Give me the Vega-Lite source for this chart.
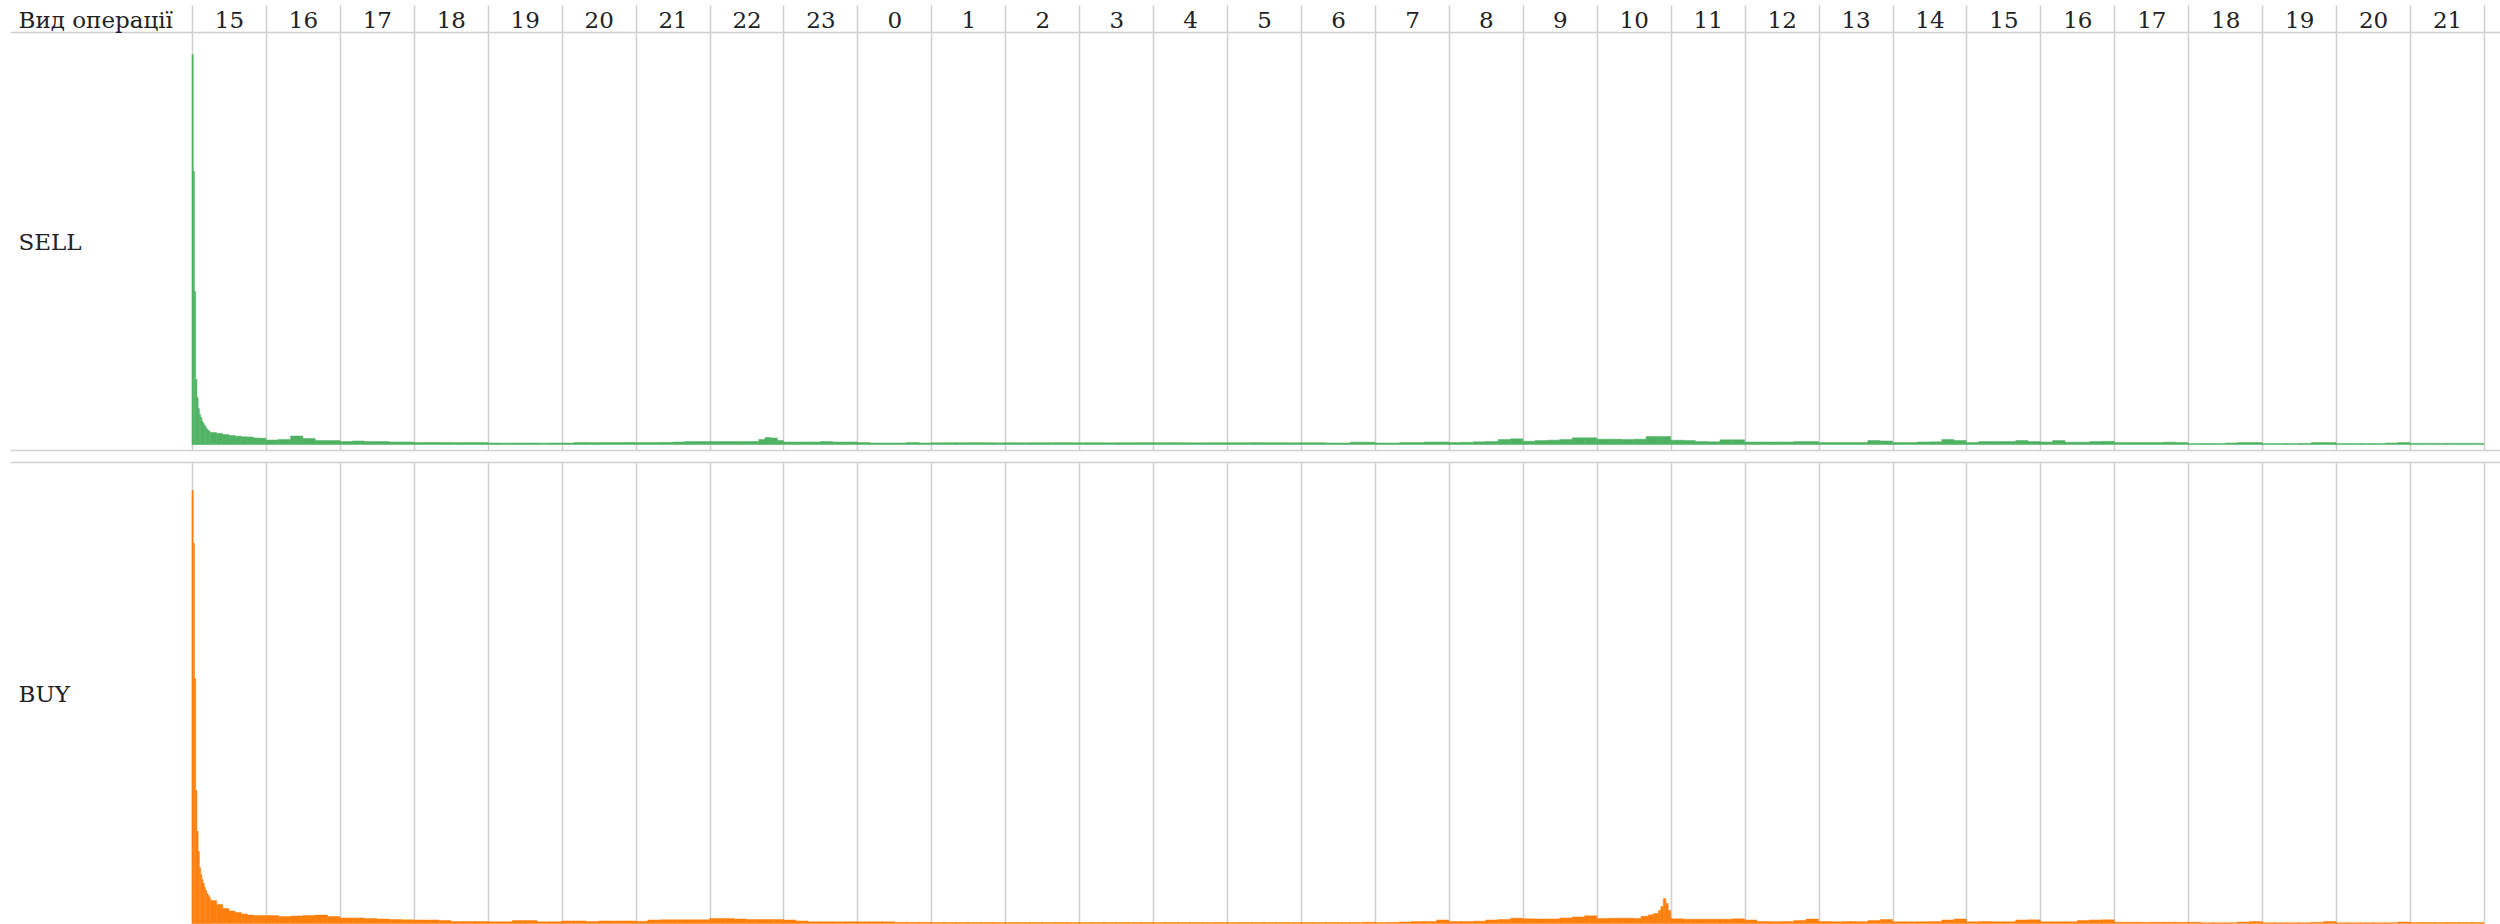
{
  "$schema": "https://vega.github.io/schema/vega-lite/v6.json",
  "autosize": {"type": "pad"},
  "padding": {"left": 10, "top": 4, "right": 0, "bottom": 0},
  "background": "white",
  "bounds": "flush",
  "spacing": 12,
  "config": {"view": {"stroke": null}, "font": "DejaVu Serif"},
  "datasets": {
    "sell": [
      {"t0":0,"t1":1,"v":390},{"t0":1,"t1":2,"v":273},{"t0":2,"t1":3,"v":153},{"t0":3,"t1":4,"v":65},{"t0":4,"t1":5,"v":47},{"t0":5,"t1":6,"v":36},{"t0":6,"t1":7,"v":30},{"t0":7,"t1":8,"v":27},{"t0":8,"t1":9,"v":23},{"t0":9,"t1":10,"v":21},{"t0":10,"t1":11,"v":19},{"t0":11,"t1":12,"v":17},{"t0":12,"t1":13,"v":15},{"t0":13,"t1":14,"v":14},{"t0":14,"t1":15,"v":13},
      {"t0":15,"t1":20,"v":12},{"t0":20,"t1":25,"v":11},{"t0":25,"t1":30,"v":10},{"t0":30,"t1":35,"v":9},{"t0":35,"t1":40,"v":8.3},{"t0":40,"t1":45,"v":7.7},{"t0":45,"t1":50,"v":7.5},{"t0":50,"t1":55,"v":6.5},{"t0":55,"t1":60,"v":6.3},
      {"t0":60,"t1":70,"v":4.5},{"t0":70,"t1":80,"v":5},{"t0":80,"t1":90,"v":8.5},{"t0":90,"t1":100,"v":6},{"t0":100,"t1":110,"v":4},{"t0":110,"t1":120,"v":4},
      {"t0":120,"t1":130,"v":3},{"t0":130,"t1":140,"v":3.5},{"t0":140,"t1":150,"v":3},{"t0":150,"t1":160,"v":3},{"t0":160,"t1":170,"v":2.5},{"t0":170,"t1":180,"v":2.5},
      {"t0":180,"t1":190,"v":2},{"t0":190,"t1":200,"v":2.1},{"t0":200,"t1":210,"v":2},{"t0":210,"t1":220,"v":1.9},{"t0":220,"t1":230,"v":2},{"t0":230,"t1":240,"v":2},
      {"t0":240,"t1":250,"v":1.5},{"t0":250,"t1":260,"v":1.4},{"t0":260,"t1":270,"v":1.6},{"t0":270,"t1":280,"v":1.5},{"t0":280,"t1":290,"v":1.4},{"t0":290,"t1":300,"v":1.5},
      {"t0":300,"t1":310,"v":1.5},{"t0":310,"t1":320,"v":2},{"t0":320,"t1":330,"v":1.9},{"t0":330,"t1":340,"v":2},{"t0":340,"t1":350,"v":2},{"t0":350,"t1":360,"v":2.1},
      {"t0":360,"t1":370,"v":2},{"t0":370,"t1":380,"v":2},{"t0":380,"t1":390,"v":2.1},{"t0":390,"t1":400,"v":2.5},{"t0":400,"t1":410,"v":3},{"t0":410,"t1":420,"v":3},
      {"t0":420,"t1":430,"v":3},{"t0":430,"t1":440,"v":3},{"t0":440,"t1":450,"v":3},{"t0":450,"t1":460,"v":3.1},{"t0":460,"t1":465,"v":5},{"t0":465,"t1":470,"v":7},{"t0":470,"t1":475,"v":6.5},{"t0":475,"t1":480,"v":4},
      {"t0":480,"t1":490,"v":2.5},{"t0":490,"t1":500,"v":2.5},{"t0":500,"t1":510,"v":2.5},{"t0":510,"t1":520,"v":3},{"t0":520,"t1":530,"v":2.5},{"t0":530,"t1":540,"v":2.5},
      {"t0":540,"t1":550,"v":2},{"t0":550,"t1":560,"v":1.5},{"t0":560,"t1":570,"v":1.5},{"t0":570,"t1":580,"v":1.5},{"t0":580,"t1":590,"v":2},{"t0":590,"t1":600,"v":1.5},
      {"t0":600,"t1":610,"v":1.7},{"t0":610,"t1":620,"v":1.8},{"t0":620,"t1":630,"v":1.8},{"t0":630,"t1":640,"v":1.9},{"t0":640,"t1":650,"v":1.8},{"t0":650,"t1":660,"v":1.7},
      {"t0":660,"t1":670,"v":1.8},{"t0":670,"t1":680,"v":1.7},{"t0":680,"t1":690,"v":1.8},{"t0":690,"t1":700,"v":1.8},{"t0":700,"t1":710,"v":1.9},{"t0":710,"t1":720,"v":1.8},
      {"t0":720,"t1":730,"v":1.8},{"t0":730,"t1":740,"v":1.8},{"t0":740,"t1":750,"v":1.7},{"t0":750,"t1":760,"v":1.8},{"t0":760,"t1":770,"v":1.8},{"t0":770,"t1":780,"v":1.9},
      {"t0":780,"t1":790,"v":1.8},{"t0":790,"t1":800,"v":1.9},{"t0":800,"t1":810,"v":1.8},{"t0":810,"t1":820,"v":1.7},{"t0":820,"t1":830,"v":1.8},{"t0":830,"t1":840,"v":1.8},
      {"t0":840,"t1":850,"v":1.8},{"t0":850,"t1":860,"v":1.8},{"t0":860,"t1":870,"v":1.9},{"t0":870,"t1":880,"v":1.8},{"t0":880,"t1":890,"v":1.8},{"t0":890,"t1":900,"v":1.7},
      {"t0":900,"t1":910,"v":1.8},{"t0":910,"t1":920,"v":1.8},{"t0":920,"t1":930,"v":1.5},{"t0":930,"t1":940,"v":1.5},{"t0":940,"t1":950,"v":2.3},{"t0":950,"t1":960,"v":2.3},
      {"t0":960,"t1":970,"v":1.5},{"t0":970,"t1":980,"v":1.5},{"t0":980,"t1":990,"v":2},{"t0":990,"t1":1000,"v":2},{"t0":1000,"t1":1010,"v":2.5},{"t0":1010,"t1":1020,"v":2.5},
      {"t0":1020,"t1":1030,"v":2},{"t0":1030,"t1":1040,"v":2.2},{"t0":1040,"t1":1050,"v":2.7},{"t0":1050,"t1":1060,"v":3},{"t0":1060,"t1":1070,"v":5},{"t0":1070,"t1":1080,"v":5.7},
      {"t0":1080,"t1":1090,"v":3.3},{"t0":1090,"t1":1100,"v":4},{"t0":1100,"t1":1110,"v":4.3},{"t0":1110,"t1":1120,"v":5},{"t0":1120,"t1":1130,"v":6.7},{"t0":1130,"t1":1140,"v":6.7},
      {"t0":1140,"t1":1150,"v":5.3},{"t0":1150,"t1":1160,"v":5.3},{"t0":1160,"t1":1170,"v":5},{"t0":1170,"t1":1180,"v":5.3},{"t0":1180,"t1":1190,"v":8},{"t0":1190,"t1":1200,"v":8},
      {"t0":1200,"t1":1210,"v":4.3},{"t0":1210,"t1":1220,"v":4},{"t0":1220,"t1":1230,"v":3},{"t0":1230,"t1":1240,"v":2.7},{"t0":1240,"t1":1250,"v":4.7},{"t0":1250,"t1":1260,"v":4.7},
      {"t0":1260,"t1":1270,"v":2.5},{"t0":1270,"t1":1280,"v":2.5},{"t0":1280,"t1":1290,"v":2.5},{"t0":1290,"t1":1300,"v":2.5},{"t0":1300,"t1":1310,"v":3},{"t0":1310,"t1":1320,"v":3},
      {"t0":1320,"t1":1330,"v":2},{"t0":1330,"t1":1340,"v":2},{"t0":1340,"t1":1350,"v":2},{"t0":1350,"t1":1360,"v":2},{"t0":1360,"t1":1370,"v":4},{"t0":1370,"t1":1380,"v":3.5},
      {"t0":1380,"t1":1390,"v":2},{"t0":1390,"t1":1400,"v":2},{"t0":1400,"t1":1410,"v":2.5},{"t0":1410,"t1":1420,"v":2.7},{"t0":1420,"t1":1430,"v":5},{"t0":1430,"t1":1440,"v":4},
      {"t0":1440,"t1":1450,"v":2},{"t0":1450,"t1":1460,"v":3},{"t0":1460,"t1":1470,"v":3},{"t0":1470,"t1":1480,"v":3},{"t0":1480,"t1":1490,"v":4},{"t0":1490,"t1":1500,"v":3},
      {"t0":1500,"t1":1510,"v":2.5},{"t0":1510,"t1":1520,"v":4},{"t0":1520,"t1":1530,"v":2.3},{"t0":1530,"t1":1540,"v":2.3},{"t0":1540,"t1":1550,"v":3},{"t0":1550,"t1":1560,"v":3.2},
      {"t0":1560,"t1":1570,"v":2},{"t0":1570,"t1":1580,"v":2},{"t0":1580,"t1":1590,"v":2},{"t0":1590,"t1":1600,"v":2},{"t0":1600,"t1":1610,"v":2.3},{"t0":1610,"t1":1620,"v":2},
      {"t0":1620,"t1":1630,"v":1},{"t0":1630,"t1":1640,"v":1},{"t0":1640,"t1":1650,"v":1},{"t0":1650,"t1":1660,"v":1.5},{"t0":1660,"t1":1670,"v":2},{"t0":1670,"t1":1680,"v":2},
      {"t0":1680,"t1":1690,"v":1},{"t0":1690,"t1":1700,"v":1},{"t0":1700,"t1":1710,"v":1},{"t0":1710,"t1":1720,"v":1.2},{"t0":1720,"t1":1730,"v":2},{"t0":1730,"t1":1740,"v":2},
      {"t0":1740,"t1":1750,"v":1},{"t0":1750,"t1":1760,"v":1},{"t0":1760,"t1":1770,"v":1},{"t0":1770,"t1":1780,"v":1},{"t0":1780,"t1":1790,"v":1.5},{"t0":1790,"t1":1800,"v":2},
      {"t0":1800,"t1":1810,"v":1.2},{"t0":1810,"t1":1820,"v":1.2},{"t0":1820,"t1":1830,"v":1.2},{"t0":1830,"t1":1840,"v":1.2},{"t0":1840,"t1":1850,"v":1.2},{"t0":1850,"t1":1860,"v":1.2}
    ],
    "buy": [
      {"t0":0,"t1":1,"v":433},{"t0":1,"t1":2,"v":380},{"t0":2,"t1":3,"v":245},{"t0":3,"t1":4,"v":133},{"t0":4,"t1":5,"v":92},{"t0":5,"t1":6,"v":72},{"t0":6,"t1":7,"v":56},{"t0":7,"t1":8,"v":49},{"t0":8,"t1":9,"v":44},{"t0":9,"t1":10,"v":40},{"t0":10,"t1":11,"v":36},{"t0":11,"t1":12,"v":33},{"t0":12,"t1":13,"v":30},{"t0":13,"t1":14,"v":28},{"t0":14,"t1":15,"v":26},
      {"t0":15,"t1":20,"v":23},{"t0":20,"t1":25,"v":19},{"t0":25,"t1":30,"v":15},{"t0":30,"t1":35,"v":12.5},{"t0":35,"t1":40,"v":11},{"t0":40,"t1":45,"v":9.5},{"t0":45,"t1":50,"v":8.5},{"t0":50,"t1":55,"v":8},{"t0":55,"t1":60,"v":8},
      {"t0":60,"t1":70,"v":8},{"t0":70,"t1":80,"v":7},{"t0":80,"t1":90,"v":7.5},{"t0":90,"t1":100,"v":8},{"t0":100,"t1":110,"v":8.5},{"t0":110,"t1":120,"v":7},
      {"t0":120,"t1":130,"v":5.5},{"t0":130,"t1":140,"v":5.5},{"t0":140,"t1":150,"v":5},{"t0":150,"t1":160,"v":4.5},{"t0":160,"t1":170,"v":4},{"t0":170,"t1":180,"v":3.7},
      {"t0":180,"t1":190,"v":3.5},{"t0":190,"t1":200,"v":3.5},{"t0":200,"t1":210,"v":3},{"t0":210,"t1":220,"v":2},{"t0":220,"t1":230,"v":2},{"t0":230,"t1":240,"v":2},
      {"t0":240,"t1":250,"v":1.7},{"t0":250,"t1":260,"v":1.7},{"t0":260,"t1":270,"v":3},{"t0":270,"t1":280,"v":3},{"t0":280,"t1":290,"v":1.7},{"t0":290,"t1":300,"v":1.7},
      {"t0":300,"t1":310,"v":2.5},{"t0":310,"t1":320,"v":2.5},{"t0":320,"t1":330,"v":2},{"t0":330,"t1":340,"v":2.5},{"t0":340,"t1":350,"v":2.5},{"t0":350,"t1":360,"v":2.5},
      {"t0":360,"t1":370,"v":2.2},{"t0":370,"t1":380,"v":3.5},{"t0":380,"t1":390,"v":3.7},{"t0":390,"t1":400,"v":3.7},{"t0":400,"t1":410,"v":3.7},{"t0":410,"t1":420,"v":3.7},
      {"t0":420,"t1":430,"v":5},{"t0":430,"t1":440,"v":5},{"t0":440,"t1":450,"v":4.5},{"t0":450,"t1":460,"v":4},{"t0":460,"t1":470,"v":4},{"t0":470,"t1":480,"v":4},
      {"t0":480,"t1":490,"v":3.5},{"t0":490,"t1":500,"v":2.5},{"t0":500,"t1":510,"v":1.7},{"t0":510,"t1":520,"v":1.7},{"t0":520,"t1":530,"v":1.7},{"t0":530,"t1":540,"v":1.7},
      {"t0":540,"t1":550,"v":1.7},{"t0":550,"t1":560,"v":1.7},{"t0":560,"t1":570,"v":1.7},{"t0":570,"t1":580,"v":1.2},{"t0":580,"t1":590,"v":1.2},{"t0":590,"t1":600,"v":1.2},
      {"t0":600,"t1":610,"v":1},{"t0":610,"t1":620,"v":1},{"t0":620,"t1":630,"v":1},{"t0":630,"t1":640,"v":1},{"t0":640,"t1":650,"v":1},{"t0":650,"t1":660,"v":1},
      {"t0":660,"t1":670,"v":1},{"t0":670,"t1":680,"v":1},{"t0":680,"t1":690,"v":1},{"t0":690,"t1":700,"v":1},{"t0":700,"t1":710,"v":1},{"t0":710,"t1":720,"v":1},
      {"t0":720,"t1":730,"v":1},{"t0":730,"t1":740,"v":1},{"t0":740,"t1":750,"v":1},{"t0":750,"t1":760,"v":1},{"t0":760,"t1":770,"v":1},{"t0":770,"t1":780,"v":1},
      {"t0":780,"t1":790,"v":1},{"t0":790,"t1":800,"v":1},{"t0":800,"t1":810,"v":1},{"t0":810,"t1":820,"v":1},{"t0":820,"t1":830,"v":1},{"t0":830,"t1":840,"v":1},
      {"t0":840,"t1":850,"v":1},{"t0":850,"t1":860,"v":1},{"t0":860,"t1":870,"v":1},{"t0":870,"t1":880,"v":1},{"t0":880,"t1":890,"v":1},{"t0":890,"t1":900,"v":1},
      {"t0":900,"t1":910,"v":1},{"t0":910,"t1":920,"v":1},{"t0":920,"t1":930,"v":1},{"t0":930,"t1":940,"v":1},{"t0":940,"t1":950,"v":1},{"t0":950,"t1":960,"v":1.3},
      {"t0":960,"t1":970,"v":1},{"t0":970,"t1":980,"v":1.2},{"t0":980,"t1":990,"v":1.5},{"t0":990,"t1":1000,"v":2},{"t0":1000,"t1":1010,"v":2},{"t0":1010,"t1":1020,"v":3.5},
      {"t0":1020,"t1":1030,"v":2},{"t0":1030,"t1":1040,"v":2},{"t0":1040,"t1":1050,"v":2.3},{"t0":1050,"t1":1060,"v":3.5},{"t0":1060,"t1":1070,"v":4},{"t0":1070,"t1":1080,"v":5.3},
      {"t0":1080,"t1":1090,"v":4.7},{"t0":1090,"t1":1100,"v":4.5},{"t0":1100,"t1":1110,"v":4.5},{"t0":1110,"t1":1120,"v":5.5},{"t0":1120,"t1":1130,"v":6.5},{"t0":1130,"t1":1140,"v":7.7},
      {"t0":1140,"t1":1150,"v":5},{"t0":1150,"t1":1160,"v":5.3},{"t0":1160,"t1":1170,"v":5.3},{"t0":1170,"t1":1176,"v":5},{"t0":1176,"t1":1182,"v":7.3},{"t0":1182,"t1":1186,"v":8.7},{"t0":1186,"t1":1190,"v":10},{"t0":1190,"t1":1192,"v":13},{"t0":1192,"t1":1194,"v":17},{"t0":1194,"t1":1196,"v":25},{"t0":1196,"t1":1198,"v":20},{"t0":1198,"t1":1200,"v":13},
      {"t0":1200,"t1":1210,"v":4.7},{"t0":1210,"t1":1220,"v":4.3},{"t0":1220,"t1":1230,"v":4.3},{"t0":1230,"t1":1240,"v":4.3},{"t0":1240,"t1":1250,"v":4.3},{"t0":1250,"t1":1260,"v":4.7},
      {"t0":1260,"t1":1270,"v":3.5},{"t0":1270,"t1":1280,"v":2},{"t0":1280,"t1":1290,"v":1.8},{"t0":1290,"t1":1300,"v":2},{"t0":1300,"t1":1310,"v":3},{"t0":1310,"t1":1320,"v":4.5},
      {"t0":1320,"t1":1330,"v":2},{"t0":1330,"t1":1340,"v":1.7},{"t0":1340,"t1":1350,"v":2},{"t0":1350,"t1":1360,"v":1.8},{"t0":1360,"t1":1370,"v":3},{"t0":1370,"t1":1380,"v":4},
      {"t0":1380,"t1":1390,"v":1.7},{"t0":1390,"t1":1400,"v":1.7},{"t0":1400,"t1":1410,"v":1.7},{"t0":1410,"t1":1420,"v":2},{"t0":1420,"t1":1430,"v":3.5},{"t0":1430,"t1":1440,"v":4.5},
      {"t0":1440,"t1":1450,"v":1.7},{"t0":1450,"t1":1460,"v":2},{"t0":1460,"t1":1470,"v":1.7},{"t0":1470,"t1":1480,"v":1.7},{"t0":1480,"t1":1490,"v":3.5},{"t0":1490,"t1":1500,"v":3.7},
      {"t0":1500,"t1":1510,"v":1.7},{"t0":1510,"t1":1520,"v":1.7},{"t0":1520,"t1":1530,"v":1.7},{"t0":1530,"t1":1540,"v":3},{"t0":1540,"t1":1550,"v":3.5},{"t0":1550,"t1":1560,"v":3.7},
      {"t0":1560,"t1":1570,"v":1.3},{"t0":1570,"t1":1580,"v":1.3},{"t0":1580,"t1":1590,"v":1.2},{"t0":1590,"t1":1600,"v":1.3},{"t0":1600,"t1":1610,"v":1.3},{"t0":1610,"t1":1620,"v":1.2},
      {"t0":1620,"t1":1630,"v":1.3},{"t0":1630,"t1":1640,"v":0.8},{"t0":1640,"t1":1650,"v":0.8},{"t0":1650,"t1":1660,"v":0.8},{"t0":1660,"t1":1670,"v":1.5},{"t0":1670,"t1":1680,"v":2},
      {"t0":1680,"t1":1690,"v":0.8},{"t0":1690,"t1":1700,"v":0.8},{"t0":1700,"t1":1710,"v":0.8},{"t0":1710,"t1":1720,"v":0.8},{"t0":1720,"t1":1730,"v":1.2},{"t0":1730,"t1":1740,"v":2},
      {"t0":1740,"t1":1750,"v":0.8},{"t0":1750,"t1":1760,"v":0.8},{"t0":1760,"t1":1770,"v":0.8},{"t0":1770,"t1":1780,"v":0.8},{"t0":1780,"t1":1790,"v":0.8},{"t0":1790,"t1":1800,"v":1.5},
      {"t0":1800,"t1":1810,"v":1},{"t0":1810,"t1":1820,"v":1},{"t0":1820,"t1":1830,"v":1},{"t0":1830,"t1":1840,"v":1},{"t0":1840,"t1":1850,"v":1},{"t0":1850,"t1":1860,"v":1}
    ]
  },
  "vconcat": [
    {
      "width": 2490,
      "height": 418,
      "data": {"name": "sell"},
      "mark": {"type": "bar", "color": "#4fb263", "stroke": "#4fb263", "strokeWidth": 0.5},
      "encoding": {
        "x": {
          "field": "t0", "type": "quantitative",
          "scale": {"domain": [-147.7, 1873], "nice": false, "zero": false},
          "axis": {
            "orient": "top",
            "values": [0,60,120,180,240,300,360,420,480,540,600,660,720,780,840,900,960,1020,1080,1140,1200,1260,1320,1380,1440,1500,1560,1620,1680,1740,1800,1860],
            "grid": true, "gridColor": "#d0d0d0", "gridWidth": 1.5,
            "domain": true, "domainColor": "#d0d0d0", "domainWidth": 1.5,
            "ticks": true, "tickSize": 27, "tickColor": "#d0d0d0", "tickWidth": 1.5,
            "labelExpr": "datum.value >= 1860 ? '' : '' + ((datum.value / 60 + 15) % 24)",
            "labelOffset": 37, "labelPadding": -22, "labelBaseline": "alphabetic",
            "labelFont": "DejaVu Serif", "labelFontSize": 23, "labelColor": "#222222",
            "labelFlush": false, "labelOverlap": false, "labelBound": false,
            "title": "Вид операції", "titleX": 8, "titleY": -5, "titleAlign": "left", "titleAngle": 0,
            "titleBaseline": "alphabetic", "titleFont": "DejaVu Serif", "titleFontSize": 23,
            "titleFontWeight": "normal", "titleColor": "#222222"
          }
        },
        "x2": {"field": "t1"},
        "y": {
          "field": "v", "type": "quantitative",
          "scale": {"domain": [-5.5, 412.5], "nice": false, "zero": false},
          "axis": {
            "orient": "left", "values": [-5.5], "grid": true, "gridColor": "#d0d0d0", "gridWidth": 1.5,
            "domain": false, "ticks": false, "labels": false,
            "title": "SELL", "titleAngle": 0, "titleAlign": "left", "titleBaseline": "middle",
            "titleX": 8, "titleY": 210, "titleFont": "DejaVu Serif", "titleFontSize": 23,
            "titleFontWeight": "normal", "titleColor": "#222222"
          }
        },
        "y2": {"datum": 0}
      }
    },
    {
      "width": 2490,
      "height": 463,
      "data": {"name": "buy"},
      "mark": {"type": "bar", "color": "#fd7f0e", "stroke": "#fd7f0e", "strokeWidth": 0.5},
      "encoding": {
        "x": {
          "field": "t0", "type": "quantitative",
          "scale": {"domain": [-147.7, 1873], "nice": false, "zero": false},
          "axis": {
            "orient": "top",
            "values": [0,60,120,180,240,300,360,420,480,540,600,660,720,780,840,900,960,1020,1080,1140,1200,1260,1320,1380,1440,1500,1560,1620,1680,1740,1800,1860],
            "grid": true, "gridColor": "#d0d0d0", "gridWidth": 1.5,
            "domain": true, "domainColor": "#d0d0d0", "domainWidth": 1.5,
            "ticks": false, "labels": false, "title": null
          }
        },
        "x2": {"field": "t1"},
        "y": {
          "field": "v", "type": "quantitative",
          "scale": {"domain": [-1.5, 461.5], "nice": false, "zero": false},
          "axis": {
            "orient": "left", "grid": false, "domain": false, "ticks": false, "labels": false,
            "title": "BUY", "titleAngle": 0, "titleAlign": "left", "titleBaseline": "middle",
            "titleX": 8, "titleY": 232, "titleFont": "DejaVu Serif", "titleFontSize": 23,
            "titleFontWeight": "normal", "titleColor": "#222222"
          }
        },
        "y2": {"datum": 0}
      }
    }
  ]
}
